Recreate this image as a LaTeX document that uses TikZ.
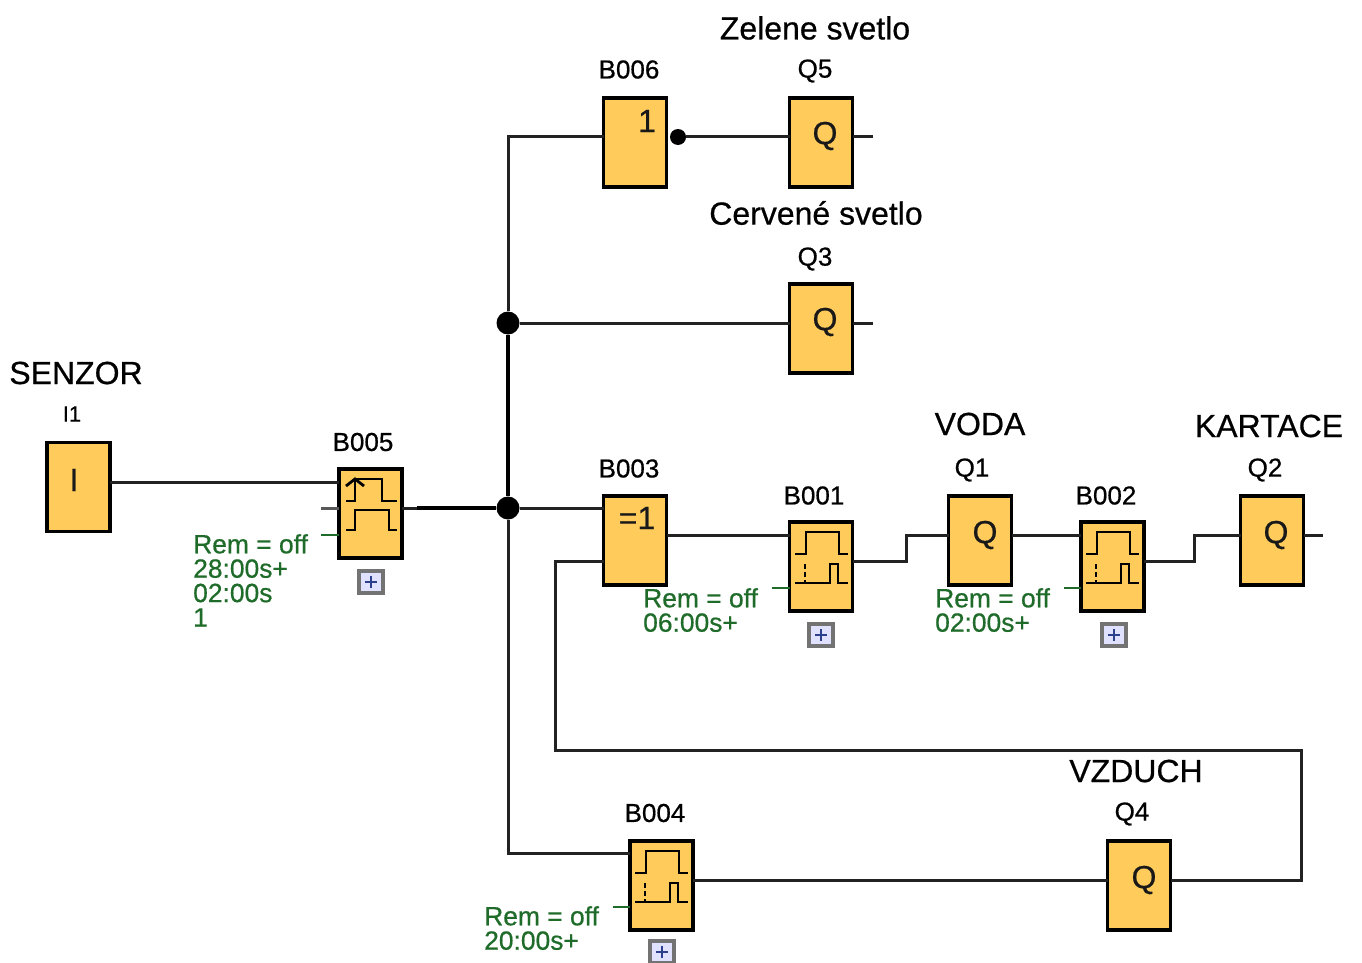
\documentclass[tikz,border=0pt]{standalone}
\usepackage{fontspec}
\setmainfont{Liberation Sans}[FakeBold=0.6]
\definecolor{blockfill}{HTML}{FFCC5C}
\definecolor{remgreen}{HTML}{1F6B2A}
\definecolor{wire}{HTML}{222222}
\definecolor{btnblue}{HTML}{2C3F8C}
\newcommand{\fsz}[2]{\fontsize{#1}{#2}\selectfont}
\newcommand{\plusbtn}[2]{%
  \node[btnbox] (#1) at (#2) {};
  \draw[btnblue,line width=2.8pt] ([xshift=-6pt]#1.center) -- ([xshift=6pt]#1.center);
  \draw[btnblue,line width=2.8pt] ([yshift=-6pt]#1.center) -- ([yshift=6pt]#1.center);
}
\newcommand{\delayglyph}[1]{%
  \begin{scope}[shift={(#1)},glyph]
    \draw (6,33) -- (17,33) -- (17,11) -- (50,11) -- (50,33) -- (59,33);
    \draw (6,62) -- (41,62) -- (41,43) -- (49,43) -- (49,62) -- (59,62);
    \draw[dash pattern=on 5pt off 3pt] (16,43) -- (16,62);
  \end{scope}
}
\tikzset{
  x=1pt,y=-1pt,
  block/.style={draw=black,fill=blockfill,line width=3.2pt,minimum width=63pt,minimum height=89pt,inner sep=0pt,outer sep=0pt},
  conn/.style={draw=wire,line width=3pt},
  heavy/.style={draw=black,line width=4.2pt},
  greenstub/.style={draw=remgreen,line width=2.2pt},
  glyph/.style={draw=black,line width=2.8pt},
  dot/.style={circle,fill=black,inner sep=0pt,minimum size=23pt},
  smalldot/.style={circle,fill=black,inner sep=0pt,minimum size=16pt},
  tag/.style={font=\fsz{26}{28},text=black,inner sep=0pt},
  title/.style={font=\fsz{32}{34},text=black,inner sep=0pt},
  sym/.style={font=\fsz{32}{34},text=black!90,inner sep=0pt},
  rem/.style={font=\fsz{26.4}{24.4},text=remgreen,align=left,anchor=north west,inner sep=0pt},
  btnbox/.style={draw=black!55,fill=white!88!blue,line width=3.2pt,minimum width=24pt,minimum height=22pt,inner sep=0pt},
}
\begin{document}
\begin{tikzpicture}
\useasboundingbox (0,0) rectangle (1362,963);

% junctions and free ends
\node[dot] (J1) at (508,323) {};
\node[dot] (J2) at (508,508) {};
\node[smalldot] (inv) at (678,137) {};
\coordinate (top) at (508,137);
\coordinate (bot) at (508,853);
\coordinate (in2) at (321,508);
\coordinate (q5end) at (873,137);
\coordinate (q3end) at (873,323);
\coordinate (q2end) at (1323,535);

% blocks
\node[block] (I1)   at (78.5,487)   {};
\node[block] (B005) at (370.5,513.5){};
\node[block] (B006) at (635,142.5)  {};
\node[block] (Q5)   at (821,142.5)  {};
\node[block] (Q3)   at (821,328.5)  {};
\node[block] (B003) at (635,540.5)  {};
\node[block] (B001) at (821,566.5)  {};
\node[block] (Q1)   at (980,540.5)  {};
\node[block] (B002) at (1112.5,566.5){};
\node[block] (Q2)   at (1272,540.5) {};
\node[block] (B004) at (661.5,885.5){};
\node[block] (Q4)   at (1139,885.5) {};

% connectors
\draw[conn] ([yshift=5pt]I1.east) -- ([yshift=31.5pt]B005.west);
\draw[conn,draw=black!65] (in2) -- ([yshift=5.5pt]B005.west);
\draw[conn] ([yshift=5.5pt]B005.east) -- ++(15,0);
\draw[heavy] ([xshift=15pt,yshift=5.5pt]B005.east) -- (J2);
\draw[conn] (J2) -- ([yshift=32.5pt]B003.west);
\draw[conn] (B006.west |- top) -- (top) -- (J1);
\draw[heavy] (J1) -- (J2);
\draw[conn] (J2) -- (bot) -- (bot -| B004.west);
\draw[conn] (J1) -- (J1 -| Q3.west);
\draw[conn] (inv) -- (inv -| Q5.west);
\draw[conn] (Q5.east |- q5end) -- (q5end);
\draw[conn] (Q3.east |- q3end) -- (q3end);
\draw[conn] ([yshift=5.5pt]B003.east) -- ([yshift=31.5pt]B001.west);
\draw[conn] ([yshift=5.5pt]B001.east) -- (906,561) -- (906,535) -- ([yshift=5.5pt]Q1.west);
\draw[conn] ([yshift=5.5pt]Q1.east) -- ([yshift=31.5pt]B002.west);
\draw[conn] ([yshift=5.5pt]B002.east) -- (1194,561) -- (1194,535) -- ([yshift=5.5pt]Q2.west);
\draw[conn] (Q2.east |- q2end) -- (q2end);
\draw[conn] ([yshift=5.5pt]B004.east) -- ([yshift=5.5pt]Q4.west);
\draw[conn] ([yshift=5.5pt]Q4.east) -- (1301,880) -- (1301,750) -- (555,750) -- (555,561) -- ([yshift=-20.5pt]B003.west);

% parameter stubs
\draw[greenstub] (321,535) -- (B005.west |- 0,535);
\draw[greenstub] (772,588) -- (B001.west |- 0,588);
\draw[greenstub] (1064,588) -- (B002.west |- 0,588);
\draw[greenstub] (613,907) -- (B004.west |- 0,907);

% block symbols
\node[sym] (sI1) at (74,480) {I};
\node[sym] (s6) at (647,121) {1};
\node[sym] (s3) at (637,518) {=1};
\node[sym] (qq5) at (825,136) {Q};
\node[sym] (qq3) at (825,322) {Q};
\node[sym] (qq1) at (985,535) {Q};
\node[sym] (qq2) at (1276,535) {Q};
\node[sym] (qq4) at (1144,880) {Q};

% pulse glyphs
\begin{scope}[shift={(338,468)},glyph]
  \draw (8,33) -- (17,33) -- (17,11) -- (44,11) -- (44,33) -- (59,33);
  \draw (8,18) -- (17,11) -- (26,18);
  \draw (8,62) -- (17,62) -- (17,42) -- (51,42) -- (51,62) -- (59,62);
\end{scope}
\delayglyph{789,521}
\delayglyph{1080,521}
\delayglyph{629,840}

% block tags
\node[tag] (tI1) at (72,414) {\fsz{22}{24}I1};
\node[tag] (t5) at (363,442) {B005};
\node[tag] (t6) at (629,69.5) {B006};
\node[tag] (tq5) at (815,71) {Q5};
\node[tag] (tq3) at (815,259) {Q3};
\node[tag] (t3) at (629,468.5) {B003};
\node[tag] (t1) at (814,495.5) {B001};
\node[tag] (tq1) at (972,470) {Q1};
\node[tag] (t2) at (1106,495.5) {B002};
\node[tag] (tq2) at (1265,470) {Q2};
\node[tag] (t4) at (655,813) {B004};
\node[tag] (tq4) at (1132,814) {Q4};

% titles
\node[title] (z) at (815,28) {Zelene svetlo};
\node[title] (c) at (816,213) {Cervené svetlo};
\node[title] (s) at (76,373) {SENZOR};
\node[title] (v) at (980,424) {VODA};
\node[title] (k) at (1269,426) {KARTACE};
\node[title] (a) at (1136,771) {VZDUCH};

% parameters
\node[rem] (r5) at (193,534) {Rem = off\\28:00s+\\02:00s\\1};
\node[rem] (r1) at (643,588) {Rem = off\\06:00s+};
\node[rem] (r2) at (935,588) {Rem = off\\02:00s+};
\node[rem] (r4) at (484,906) {Rem = off\\20:00s+};

% expand buttons
\plusbtn{b5}{371,582}
\plusbtn{b1}{821,635}
\plusbtn{b2}{1114,635}
\plusbtn{b4}{662,952}
\end{tikzpicture}
\end{document}
